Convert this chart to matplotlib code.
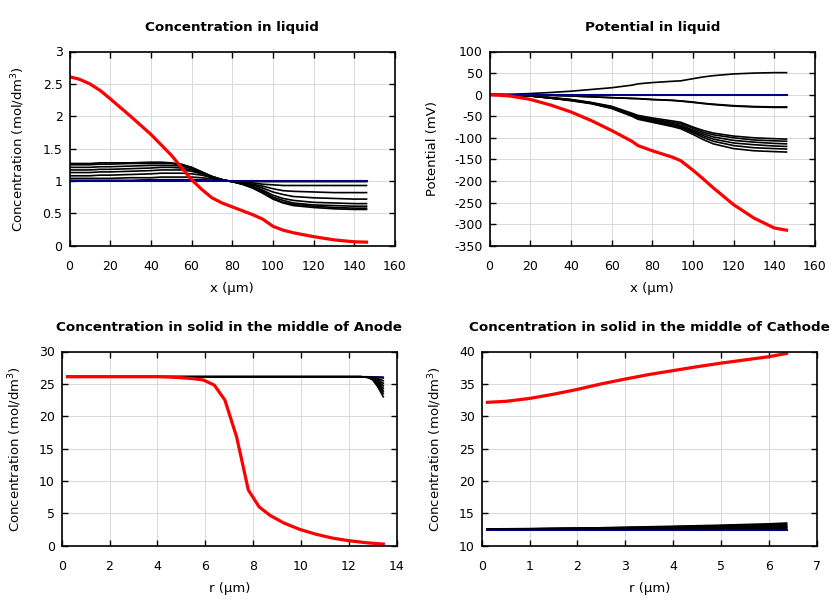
import numpy as np
import matplotlib.pyplot as plt

plt.rcParams['axes.unicode_minus'] = False

# ==============================================================================
# DATI
# ==============================================================================

# --- concentrazione nel liquido ---
x_liq = [0, 5, 10, 15, 20, 30, 40, 45, 50, 55, 60, 65, 70, 75, 80, 85, 90, 95, 100, 105, 110, 120, 130, 140, 146]
c_liq_init = [1.0] * len(x_liq)
c_liq_final = [2.61, 2.57, 2.50, 2.40, 2.27, 2.0, 1.72, 1.56, 1.40, 1.21, 1.02, 0.87, 0.74, 0.66, 0.6, 0.54,
               0.48, 0.41, 0.30, 0.24, 0.2, 0.14, 0.09, 0.06, 0.055]
c_liq_steps = [
    [1.27, 1.27, 1.27, 1.28, 1.28, 1.28, 1.29, 1.29, 1.28, 1.26, 1.21, 1.14, 1.07, 1.02, 0.99, 0.95, 0.89, 0.81, 0.72, 0.66, 0.62, 0.59, 0.57, 0.56, 0.56],
    [1.25, 1.25, 1.25, 1.26, 1.26, 1.27, 1.27, 1.27, 1.27, 1.25, 1.21, 1.14, 1.07, 1.02, 0.99, 0.95, 0.90, 0.82, 0.73, 0.67, 0.64, 0.61, 0.59, 0.58, 0.58],
    [1.21, 1.21, 1.21, 1.22, 1.22, 1.23, 1.24, 1.24, 1.24, 1.23, 1.19, 1.13, 1.07, 1.02, 0.99, 0.95, 0.90, 0.84, 0.75, 0.70, 0.66, 0.63, 0.62, 0.61, 0.61],
    [1.17, 1.17, 1.17, 1.18, 1.18, 1.19, 1.20, 1.21, 1.21, 1.20, 1.17, 1.12, 1.06, 1.02, 0.99, 0.96, 0.92, 0.86, 0.78, 0.73, 0.70, 0.67, 0.66, 0.65, 0.65],
    [1.13, 1.13, 1.13, 1.14, 1.14, 1.15, 1.16, 1.17, 1.17, 1.17, 1.15, 1.11, 1.06, 1.02, 0.99, 0.97, 0.94, 0.89, 0.83, 0.79, 0.76, 0.74, 0.73, 0.72, 0.72],
    [1.08, 1.08, 1.08, 1.09, 1.09, 1.10, 1.11, 1.12, 1.12, 1.12, 1.11, 1.09, 1.05, 1.01, 0.99, 0.97, 0.95, 0.92, 0.88, 0.85, 0.84, 0.83, 0.82, 0.82, 0.82],
    [1.04, 1.04, 1.04, 1.04, 1.04, 1.05, 1.05, 1.06, 1.06, 1.06, 1.06, 1.05, 1.03, 1.01, 0.99, 0.98, 0.97, 0.95, 0.94, 0.93, 0.93, 0.93, 0.93, 0.93, 0.93],
    [1.01, 1.01, 1.01, 1.01, 1.01, 1.01, 1.02, 1.02, 1.02, 1.02, 1.02, 1.02, 1.01, 1.00, 1.00, 0.99, 0.99, 0.99, 0.99, 0.99, 0.99, 0.99, 0.99, 0.99, 0.99],
]

# --- potenziale nel liquido ---
x_pot = [0, 10, 20, 30, 40, 50, 60, 70, 73, 80, 90, 94, 100, 105, 110, 120, 130, 140, 146]
phi_init = [0.0] * len(x_pot)
phi_final = [0, -3, -11, -24, -40, -60, -83, -108, -118, -130, -145, -153, -175, -195, -216, -255, -286, -309, -314]
phi_steps = [
    [0, 0.5, 2.6, 5, 8, 12, 16, 22, 25, 28, 31, 32, 37, 41, 44, 48, 50, 51, 51],
    [0, 0, -0.5, -1.5, -3, -5, -7, -8.5, -9, -11, -13, -14.5, -17, -20, -22, -25.5, -27.5, -28.5, -28.5],
    [0, 0, -0.5, -1.5, -3, -5, -7, -9, -9.5, -11.5, -13.5, -15, -18, -20.5, -23, -26.5, -28.5, -29.5, -29.5],
    [0, -0.5, -3, -7, -11, -18, -27, -43, -48, -54, -61, -64, -75, -83, -89, -96, -100, -102, -103],
    [0, -0.5, -3, -7, -12, -19, -28, -45, -50, -57, -64, -67, -78, -87, -93, -100, -105, -107, -108],
    [0, -0.5, -3, -7, -12, -19, -29, -46, -52, -59, -67, -71, -82, -91, -98, -106, -110, -113, -114],
    [0, -0.5, -3, -8, -13, -20, -30, -47, -54, -61, -70, -74, -85, -95, -103, -112, -116, -119, -120],
    [0, -0.5, -3, -8, -13, -20, -31, -48, -55, -62, -72, -76, -88, -99, -108, -118, -123, -125, -126],
    [0, -0.5, -3, -8, -14, -21, -32, -50, -57, -64, -74, -79, -92, -104, -114, -125, -130, -132, -133],
]

# --- solido, anodo ---
r_an = [0.24, 1, 2, 3, 4, 4.5, 5, 5.5, 5.92, 6.38, 6.82, 7.31, 7.8, 8.25, 8.7, 9.26, 9.96, 10.65, 11.35, 12.05, 12.75, 13.44]
cs_an_final = [26.1, 26.1, 26.1, 26.1, 26.1, 26.05, 25.95, 25.8, 25.6, 24.8, 22.5, 16.8, 8.6, 6.0, 4.7, 3.55,
               2.5, 1.75, 1.15, 0.75, 0.45, 0.25]
r_an_steps = [0.24, 2, 4, 6, 8, 10, 12, 12.5, 12.8, 13.0, 13.2, 13.44]
cs_an_init = [26.1] * len(r_an_steps)
cs_an_steps = [
    [26.1, 26.1, 26.1, 26.1, 26.1, 26.1, 26.1, 26.1, 26.1, 26.05, 26.0, 25.9],
    [26.1, 26.1, 26.1, 26.1, 26.1, 26.1, 26.1, 26.1, 26.05, 25.95, 25.8, 25.5],
    [26.1, 26.1, 26.1, 26.1, 26.1, 26.1, 26.1, 26.1, 26.05, 25.9, 25.65, 25.1],
    [26.1, 26.1, 26.1, 26.1, 26.1, 26.1, 26.1, 26.1, 26.05, 25.85, 25.5, 24.7],
    [26.1, 26.1, 26.1, 26.1, 26.1, 26.1, 26.1, 26.1, 26.0, 25.8, 25.3, 24.3],
    [26.1, 26.1, 26.1, 26.1, 26.1, 26.1, 26.1, 26.1, 26.0, 25.75, 25.1, 23.9],
    [26.1, 26.1, 26.1, 26.1, 26.1, 26.1, 26.1, 26.1, 26.0, 25.7, 24.9, 23.5],
    [26.1, 26.1, 26.1, 26.1, 26.1, 26.1, 26.1, 26.1, 26.0, 25.6, 24.6, 23.0],
]

# --- solido, catodo ---
r_ca = [0.12, 0.5, 1, 1.5, 2, 2.5, 3, 3.5, 4, 4.5, 5, 5.5, 6, 6.37]
cs_ca_final = [32.15, 32.3, 32.75, 33.4, 34.15, 35.0, 35.75, 36.45, 37.05, 37.65, 38.2, 38.7, 39.2, 39.7]
r_ca_steps = [0.12, 1, 2, 3, 4, 5, 6, 6.37]
cs_ca_init = [12.5] * len(r_ca_steps)
cs_ca_steps = [
    [12.6, 12.62, 12.7, 12.85, 13.0, 13.17, 13.38, 13.5],
    [12.6, 12.62, 12.68, 12.8, 12.93, 13.08, 13.25, 13.35],
    [12.6, 12.61, 12.66, 12.76, 12.87, 12.99, 13.12, 13.2],
    [12.6, 12.61, 12.65, 12.72, 12.8, 12.9, 13.0, 13.05],
    [12.6, 12.6, 12.64, 12.7, 12.76, 12.83, 12.91, 12.95],
    [12.6, 12.6, 12.63, 12.67, 12.72, 12.77, 12.82, 12.85],
    [12.6, 12.6, 12.62, 12.65, 12.68, 12.71, 12.74, 12.75],
    [12.6, 12.6, 12.6, 12.61, 12.62, 12.63, 12.64, 12.65],
]

# ==============================================================================
# GRAFICO
# ==============================================================================

W, H = 840, 600
BLUE = '#00008b'


def make_ax(fig, x0, x1, y0, y1):
    # posizioni in pixel -> frazioni della figura
    return fig.add_axes([x0 / W, 1 - y1 / H, (x1 - x0) / W, (y1 - y0) / H])


def style_ax(ax, title, xlabel, ylabel, xlim, ylim, xstep, ystep):
    ax.set_xlim(*xlim)
    ax.set_ylim(*ylim)
    ax.set_xticks(np.arange(xlim[0], xlim[1] + xstep / 2, xstep))
    ax.set_yticks(np.arange(ylim[0], ylim[1] + ystep / 2, ystep))
    ax.grid(True, color='#d9d9d9', linewidth=0.7)
    ax.set_axisbelow(True)
    ax.tick_params(direction='in', top=True, right=True, length=4, width=1, labelsize=9)
    ax.tick_params(axis='x', pad=10)
    ax.tick_params(axis='y', pad=5)
    for s in ax.spines.values():
        s.set_linewidth(1.2)
    ax.set_title(title, fontsize=9.7, fontweight='bold', pad=15)
    ax.set_xlabel(xlabel, fontsize=9.5, labelpad=7)
    ax.set_ylabel(ylabel, fontsize=9.5, labelpad=11)


fig = plt.figure(figsize=(8.4, 6), dpi=100)

# Concentrazione nel liquido
ax1 = make_ax(fig, 69.5, 395, 51.5, 245.7)
for c in c_liq_steps:
    ax1.plot(x_liq, c, color='black', lw=1.2)
ax1.plot(x_liq, c_liq_init, color=BLUE, lw=1.5)
ax1.plot(x_liq, c_liq_final, color='red', lw=2.3)
style_ax(ax1, 'Concentration in liquid', 'x (µm)', 'Concentration (mol/dm$^3$)',
         (0, 160), (0, 3), 20, 0.5)
ax1.set_yticklabels(['0', '0.5', '1', '1.5', '2', '2.5', '3'])

# Potenziale nel liquido
ax2 = make_ax(fig, 489.5, 815, 51.5, 245.7)
for p in phi_steps:
    ax2.plot(x_pot, p, color='black', lw=1.2)
ax2.plot(x_pot, phi_init, color=BLUE, lw=1.5)
ax2.plot(x_pot, phi_final, color='red', lw=2.3)
style_ax(ax2, 'Potential in liquid', 'x (µm)', 'Potential (mV)',
         (0, 160), (-350, 100), 20, 50)

# Solido, anodo
ax3 = make_ax(fig, 61.7, 396.7, 351.5, 545.7)
for c in cs_an_steps:
    ax3.plot(r_an_steps, c, color='black', lw=1.2)
ax3.plot(r_an_steps, cs_an_init, color=BLUE, lw=1.2, zorder=1.9)
ax3.plot(r_an, cs_an_final, color='red', lw=2.3)
style_ax(ax3, 'Concentration in solid in the middle of Anode', 'r (µm)', 'Concentration (mol/dm$^3$)',
         (0, 14), (0, 30), 2, 5)

# Solido, catodo
ax4 = make_ax(fig, 481.7, 816.7, 351.5, 545.7)
ax4.plot(r_ca_steps, cs_ca_init, color=BLUE, lw=1.5)
for c in cs_ca_steps:
    ax4.plot(r_ca_steps, c, color='black', lw=1.2)
ax4.plot(r_ca, cs_ca_final, color='red', lw=2.3)
style_ax(ax4, 'Concentration in solid in the middle of Cathode', 'r (µm)', 'Concentration (mol/dm$^3$)',
         (0, 7), (10, 40), 1, 5)

fig.savefig('out.png', dpi=100)
